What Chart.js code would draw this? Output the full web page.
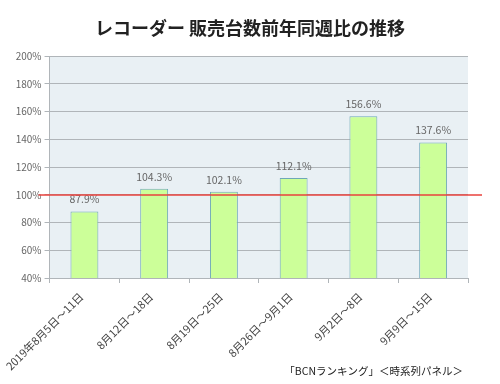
<!DOCTYPE html>
<html><head><meta charset="utf-8">
<script src="https://cdn.jsdelivr.net/npm/chart.js@4"></script>
<style>html,body{margin:0;padding:0;background:#fff}#wrap{width:500px;height:384px}</style>
</head><body><div id="wrap"><canvas id="c" width="500" height="384"></canvas></div>
<script>
const title = "レコーダー 販売台数前年同週比の推移";
const source = "「BCNランキング」＜時系列パネル＞";
const categories = ["2019年8月5日～11日","8月12日～18日","8月19日～25日","8月26日～9月1日","9月2日～8日","9月9日～15日"];
const values = [87.9,104.3,102.1,112.1,156.6,137.6];
const yTicks = [40,60,80,100,120,140,160,180,200];
const refValue = 100;

const FONT = "'Noto Sans CJK JP','Noto Sans',sans-serif";

const deco = {
  id:'deco',
  beforeDraw(chart){
    const {ctx, chartArea:a} = chart;
    ctx.save();
    ctx.fillStyle = '#e9f0f4';
    ctx.fillRect(a.left, a.top, a.right-a.left, a.bottom-a.top);
    ctx.restore();
  },
  afterDatasetsDraw(chart){
    const {ctx, chartArea:a} = chart;
    const ys = chart.scales.y;
    const meta = chart.getDatasetMeta(0);
    ctx.save();
    ctx.font = "10.5px " + FONT;
    ctx.fillStyle = '#666';
    ctx.textAlign = 'center';
    ctx.textBaseline = 'bottom';
    meta.data.forEach((b,i)=>{
      ctx.fillText(values[i].toFixed(1)+'%', b.x, b.y - 7);
    });
    const y = Math.round(ys.getPixelForValue(refValue));
    ctx.strokeStyle = '#e8423c';
    ctx.lineWidth = 1.5;
    ctx.beginPath();
    ctx.moveTo(a.left - 11, y);
    ctx.lineTo(a.right + 14, y);
    ctx.stroke();
    // title
    ctx.font = "bold 18px " + FONT;
    ctx.fillStyle = '#222';
    ctx.textAlign = 'center';
    ctx.textBaseline = 'middle';
    ctx.fillText(title, 250, 28);
    // source
    ctx.font = "10.5px " + FONT;
    ctx.fillStyle = '#222';
    ctx.textAlign = 'right';
    ctx.fillText(source, 463, 371);
    ctx.restore();
  }
};

new Chart(document.getElementById('c'), {
  type:'bar',
  data:{labels:categories, datasets:[{data:values, backgroundColor:'#ccff99', borderColor:'#6fa8b8', borderWidth:1, categoryPercentage:0.8, barPercentage:0.5}]},
  options:{
    responsive:false, animation:false, devicePixelRatio:1,
    layout:{padding:{top:56,right:32,left:0,bottom:0}},
    plugins:{legend:{display:false}, tooltip:{enabled:false}, title:{display:false}},
    scales:{
      y:{min:40,max:200,
        afterBuildTicks(s){ s.ticks = yTicks.map(v=>({value:v})); },
        afterFit(s){ s.width = 48; },
        ticks:{callback:v=>v+'%', font:{size:10, family:FONT}, color:'#666', padding:3},
        grid:{color:'#b0b5b9', tickLength:5, drawTicks:true},
        border:{color:'#b0b5b9'}
      },
      x:{
        afterFit(s){ s.height = 106; },
        ticks:{font:{size:11, family:FONT}, color:'#444', maxRotation:45, minRotation:45, padding:7, labelOffset:-3},
        grid:{offset:true, drawOnChartArea:false, drawTicks:true, tickLength:5, color:'#b0b5b9'},
        border:{color:'#b0b5b9'}
      }
    }
  },
  plugins:[deco]
});
</script></body></html>
